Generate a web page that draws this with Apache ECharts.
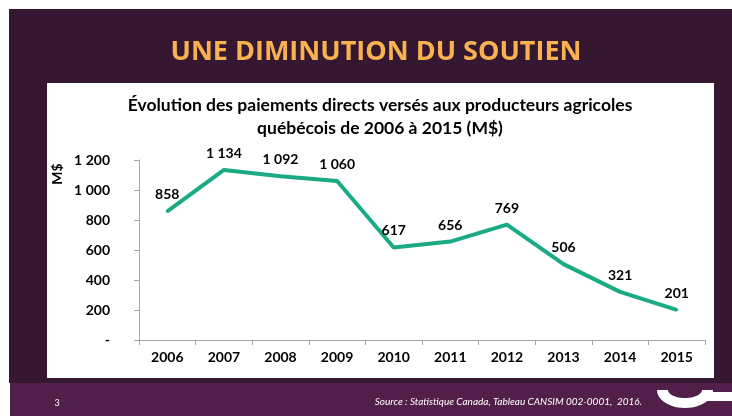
<!DOCTYPE html>
<html><head><meta charset="utf-8">
<script src="https://cdn.jsdelivr.net/npm/echarts@6/dist/echarts.min.js"></script>
<style>html,body{margin:0;padding:0;background:#fff}#c{width:732px;height:416px}</style>
</head><body><div id="c"></div>
<script>
const years = ['2006','2007','2008','2009','2010','2011','2012','2013','2014','2015'];
const payments = [858, 1134, 1092, 1060, 617, 656, 769, 506, 321, 201];
const yTicks = [0, 200, 400, 600, 800, 1000, 1200];

function fmt(v){
  if (v === 0) return '-';
  const s = String(v);
  return s.length > 3 ? s.slice(0, s.length-3) + ' ' + s.slice(-3) : s;
}
const F = 'Lato, "Open Sans", sans-serif';

// decorative swoosh (half-ring) outline
function swoosh(cx, cy, rxo, ryo, rxi, ryi){
  const pts = [];
  for (let i = 0; i <= 24; i++){ const a = Math.PI * i / 24; pts.push([cx - rxo*Math.cos(a), cy + ryo*Math.sin(a)]); }
  for (let i = 24; i >= 0; i--){ const a = Math.PI * i / 24; pts.push([cx - rxi*Math.cos(a), cy + ryi*Math.sin(a)]); }
  return pts;
}

const chart = echarts.init(document.getElementById('c'), null, {renderer:'canvas'});
chart.setOption({
  animation:false,
  backgroundColor:'#ffffff',
  graphic:[
    {type:'rect', z:-10, shape:{x:9,y:9,width:723,height:374}, style:{fill:'#361731'}},
    {type:'rect', z:-10, shape:{x:10,y:383,width:722,height:33}, style:{fill:'#511f49'}},
    {type:'rect', z:-9, shape:{x:47,y:83,width:667,height:295}, style:{fill:'#ffffff'}},
    {type:'text', z:5, x:376, y:52, style:{text:'UNE DIMINUTION DU SOUTIEN', fill:'#f9b250', font:'bold 27px "Open Sans", sans-serif', align:'center', verticalAlign:'middle'}},
    {type:'text', z:5, x:380, y:105, style:{text:'Évolution des paiements directs versés aux producteurs agricoles', fill:'#000', font:'bold 17.5px '+F, align:'center', verticalAlign:'middle'}},
    {type:'text', z:5, x:380, y:128, style:{text:'québécois de 2006 à 2015 (M$)', fill:'#000', font:'bold 17.5px '+F, align:'center', verticalAlign:'middle'}},
    {type:'text', z:5, x:57, y:174, rotation:Math.PI/2, style:{text:'M$', fill:'#000', font:'bold 14px '+F, align:'center', verticalAlign:'middle'}},
    {type:'text', z:5, x:57, y:403, style:{text:'3', fill:'#ffffff', font:'9px '+F, align:'center', verticalAlign:'middle'}},
    {type:'text', z:5, x:642, y:402, style:{text:'Source : Statistique Canada, Tableau CANSIM 002-0001,  2016.', fill:'#ffffff', font:'italic 10px '+F, align:'right', verticalAlign:'middle'}},
    {type:'polygon', z:5, shape:{points:swoosh(685, 390, 28, 18, 17, 8)}, style:{fill:'#ffffff'}},
    {type:'rect', z:5, shape:{x:705,y:392,width:27,height:9}, style:{fill:'#ffffff'}}
  ],
  grid:{left:139, right:27, top:160, bottom:76, containLabel:false},
  xAxis:{type:'category', data:years, boundaryGap:true,
    axisLine:{lineStyle:{color:'#a6a6a6', width:1}},
    axisTick:{show:true, alignWithLabel:false, length:5, lineStyle:{color:'#a6a6a6'}},
    axisLabel:{color:'#000', fontWeight:'bold', fontSize:14, fontFamily:F, margin:10}},
  yAxis:{type:'value', min:0, max:1200, interval:200,
    axisLine:{show:true, lineStyle:{color:'#a6a6a6'}},
    axisTick:{show:true, length:5, lineStyle:{color:'#a6a6a6'}},
    splitLine:{show:false},
    axisLabel:{color:'#000', fontWeight:'bold', fontSize:14, fontFamily:F, margin:29, formatter:fmt}},
  series:[{type:'line', data:payments, symbol:'circle', symbolSize:3, showSymbol:true,
    itemStyle:{color:'#1aab84'},
    lineStyle:{color:'#1aab84', width:4},
    labelLayout:{hideOverlap:false},
    label:{show:true, position:'top', distance:8, color:'#000', fontWeight:'bold', fontSize:14, fontFamily:F, formatter:function(p){return fmt(p.value);}}}]
});
</script></body></html>
